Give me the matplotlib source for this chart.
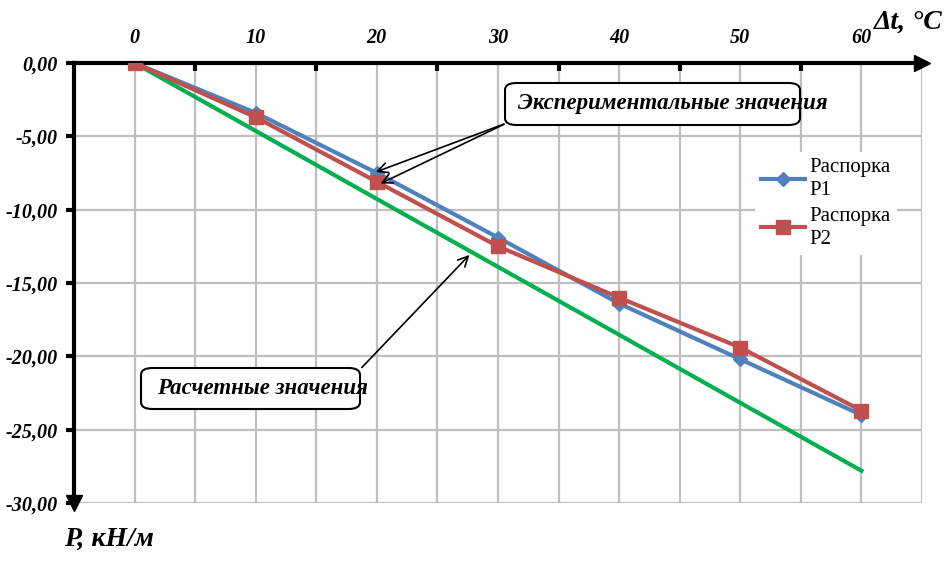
import matplotlib
matplotlib.use("Agg")
from matplotlib import pyplot as plt
from matplotlib.patches import FancyBboxPatch

# данные
dt = [0, 10, 20, 30, 40, 50, 60]
p1 = [0.0, -3.4, -7.5, -11.9, -16.4, -20.2, -24.0]
p2 = [0.0, -3.7, -8.1, -12.5, -16.0, -19.4, -23.7]
calc = [0.0, -4.63, -9.27, -13.9, -18.53, -23.17, -27.8]
xlabels = ["0", "10", "20", "30", "40", "50", "60"]
yticks = [0, -5, -10, -15, -20, -25, -30]

serif = "Liberation Serif"
bi = dict(family=serif, weight="bold", style="italic")

fig = plt.figure(figsize=(9.45, 5.66), dpi=100)
ax = fig.add_axes([74 / 945, 1 - 503 / 566, (922 - 74) / 945, (503 - 63) / 566])
ax.set_xlim(-5, 65)
ax.set_ylim(-30, 0)

# сетка через 5
for v in range(-5, 70, 5):
    ax.axvline(v, color="#BFBFBF", lw=1.6, zorder=0)
for v in yticks:
    ax.axhline(v, color="#BFBFBF", lw=1.6, zorder=0)

ax.plot(dt, calc, color="#00B050", lw=3, zorder=3)
ax.plot(dt, p1, color="#4F81BD", lw=3, marker="D", ms=7.5, label="Распорка\nP1", zorder=4)
ax.plot(dt, p2, color="#C0504D", lw=3, marker="s", ms=10, label="Распорка\nP2", zorder=5)

# оси
for s in ["right", "bottom"]:
    ax.spines[s].set_visible(False)
ax.spines["top"].set_linewidth(3)
ax.spines["left"].set_linewidth(3)
ax.xaxis.set_ticks_position("top")
ax.set_xticks([5, 15, 25, 35, 45, 55])
ax.set_xticklabels([])
ax.tick_params(axis="x", which="major", direction="in", length=6, width=3)
for x, lab in zip(dt, xlabels):
    ax.text(x, 1.035, lab, transform=ax.get_xaxis_transform(), ha="center", va="bottom",
            fontsize=14.5, **bi)
ax.set_yticks(yticks)
ax.set_yticklabels([f"{v:.2f}".replace(".", ",") for v in yticks], fontsize=14.5, **bi)
ax.tick_params(axis="y", direction="out", length=6, width=3, pad=6)

ax.plot([1.0], [1.0], marker=">", ms=12, color="black", transform=ax.transAxes, clip_on=False, zorder=6)
ax.plot([0.0], [0.0], marker="v", ms=12, color="black", transform=ax.transAxes, clip_on=False, zorder=6)

fig.text(874 / 945, 1 - 29 / 566, "Δt, °C", fontsize=20, **bi)
fig.text(64 / 945, 1 - 546 / 566, "P, кН/м", fontsize=20, **bi)

# подписи с выносками
b1 = FancyBboxPatch((505 / 945, 1 - 125 / 566), (800 - 505) / 945, 42 / 566,
                    boxstyle="round,pad=0,rounding_size=0.012", transform=fig.transFigure,
                    fc="white", ec="black", lw=1.5, zorder=7)
fig.add_artist(b1)
fig.text(518 / 945, 1 - 104 / 566, "Экспериментальные значения", fontsize=16.5, va="center", zorder=8, **bi)
ax.annotate("", xy=(19.7, -7.5), xytext=(30.7, -4.1),
            arrowprops=dict(arrowstyle="->", color="black", lw=1.2, mutation_scale=18), zorder=6)
ax.annotate("", xy=(20.1, -8.3), xytext=(30.7, -4.1),
            arrowprops=dict(arrowstyle="->", color="black", lw=1.2, mutation_scale=18), zorder=6)

b2 = FancyBboxPatch((141 / 945, 1 - 409 / 566), (360 - 141) / 945, 41 / 566,
                    boxstyle="round,pad=0,rounding_size=0.012", transform=fig.transFigure,
                    fc="white", ec="black", lw=1.5, zorder=7)
fig.add_artist(b2)
fig.text(157 / 945, 1 - 388 / 566, "Расчетные значения", fontsize=16.5, va="center", zorder=8, **bi)
ax.annotate("", xy=(27.8, -12.95), xytext=(18.6, -20.9),
            arrowprops=dict(arrowstyle="->", color="black", lw=1.2, mutation_scale=18), zorder=6)

leg = ax.legend(loc="upper left", bbox_to_anchor=(755 / 945, 1 - 152 / 566), bbox_transform=fig.transFigure,
                prop=dict(family=serif, size=15), frameon=True, fancybox=False, framealpha=1,
                edgecolor="none", handlelength=2.1, handletextpad=0.2, labelspacing=0.35,
                borderpad=0.3, borderaxespad=0)
for t in leg.get_texts():
    t.set_linespacing(1.25)
leg.set_zorder(9)

fig.savefig("out.png", dpi=100)
